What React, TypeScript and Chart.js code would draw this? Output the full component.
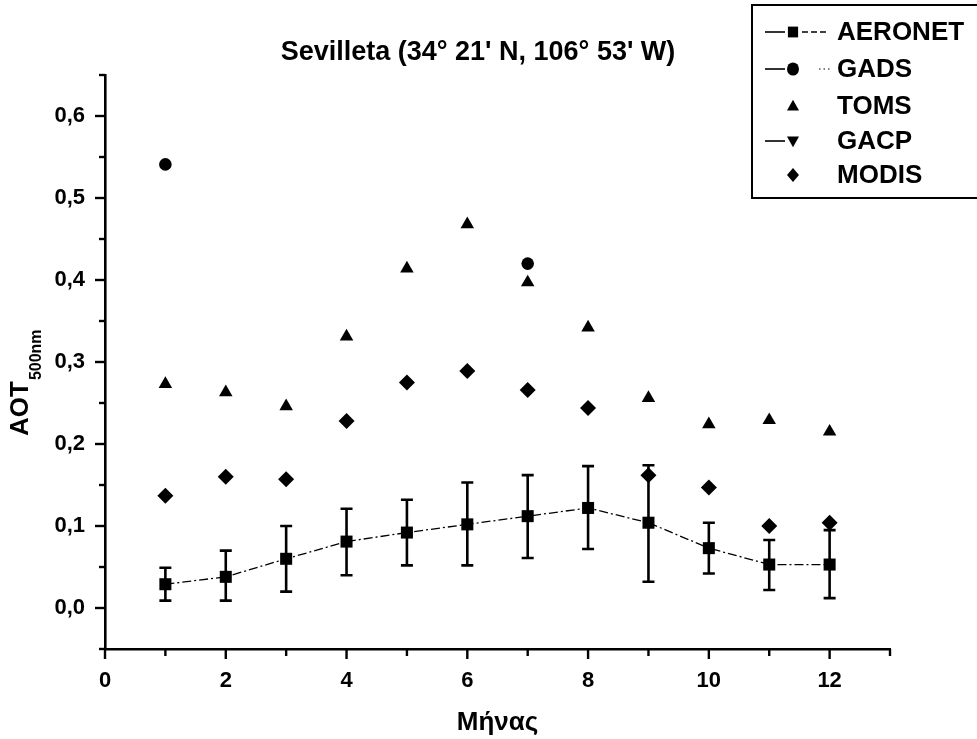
import React, { useEffect, useRef } from 'react';
import { Chart, registerables } from 'chart.js';

Chart.register(...registerables);

// ---------- data ----------
const months = [1, 2, 3, 4, 5, 6, 7, 8, 9, 10, 11, 12];
const aeronet = [0.029, 0.038, 0.060, 0.081, 0.092, 0.102, 0.112, 0.122, 0.104, 0.073, 0.053, 0.053];
const aeronetLow = [0.009, 0.009, 0.020, 0.040, 0.052, 0.052, 0.061, 0.072, 0.032, 0.042, 0.022, 0.012];
const aeronetHigh = [0.049, 0.070, 0.100, 0.121, 0.132, 0.153, 0.162, 0.173, 0.174, 0.104, 0.083, 0.095];
const gadsMonths = [1, 7];
const gadsValues = [0.541, 0.420];
const toms = [0.273, 0.263, 0.246, 0.331, 0.414, 0.468, 0.397, 0.342, 0.256, 0.224, 0.229, 0.215];
const gacpMonths: number[] = [];
const gacpValues: number[] = [];
const modis = [0.137, 0.160, 0.157, 0.228, 0.275, 0.289, 0.266, 0.244, 0.162, 0.147, 0.100, 0.104];

const xTickValues = [0, 2, 4, 6, 8, 10, 12];
const yTickValues = [0, 0.1, 0.2, 0.3, 0.4, 0.5, 0.6];
const seriesNames = ['AERONET', 'GADS', 'TOMS', 'GACP', 'MODIS'];
const titleText = "Sevilleta (34\u00B0 21' N, 106\u00B0 53' W)";
const xTitle = 'Μήνας';
const yTitleMain = 'AOT';
const yTitleSub = '500nm';

const FONT = "'Liberation Sans', Arial, Helvetica, sans-serif";

function drawMarker(ctx: CanvasRenderingContext2D, kind: string, x: number, y: number, s: number) {
  ctx.beginPath();
  if (kind === 'rect') {
    ctx.rect(x - s * 0.85, y - s * 0.9, 1.7 * s, 1.8 * s);
  } else if (kind === 'circle') {
    ctx.ellipse(x, y, s, s * 1.1, 0, 0, Math.PI * 2);
  } else if (kind === 'tri') {
    ctx.moveTo(x, y - s * 1.05);
    ctx.lineTo(x + s, y + s * 0.75);
    ctx.lineTo(x - s, y + s * 0.75);
    ctx.closePath();
  } else if (kind === 'triDown') {
    ctx.moveTo(x, y + s * 1.05);
    ctx.lineTo(x + s, y - s * 0.75);
    ctx.lineTo(x - s, y - s * 0.75);
    ctx.closePath();
  } else if (kind === 'diamond') {
    ctx.moveTo(x, y - s * 1.15);
    ctx.lineTo(x + s, y);
    ctx.lineTo(x, y + s * 1.15);
    ctx.lineTo(x - s, y);
    ctx.closePath();
  }
  ctx.fill();
}

const decorPlugin = {
  id: 'decor',
  beforeDatasetsDraw(chart: any) {
    const ctx: CanvasRenderingContext2D = chart.ctx;
    const xs = chart.scales.x;
    const ys = chart.scales.y;
    ctx.save();
    ctx.strokeStyle = '#000';
    ctx.lineWidth = 2.6;
    months.forEach((m, i) => {
      const px = xs.getPixelForValue(m);
      const top = ys.getPixelForValue(aeronetHigh[i]);
      const bot = ys.getPixelForValue(aeronetLow[i]);
      ctx.beginPath();
      ctx.moveTo(px, top);
      ctx.lineTo(px, bot);
      ctx.moveTo(px - 6, top);
      ctx.lineTo(px + 6, top);
      ctx.moveTo(px - 6, bot);
      ctx.lineTo(px + 6, bot);
      ctx.stroke();
    });
    ctx.restore();
  },
  afterDraw(chart: any) {
    const ctx: CanvasRenderingContext2D = chart.ctx;
    const xs = chart.scales.x;
    const ys = chart.scales.y;
    const area = chart.chartArea;
    ctx.save();
    ctx.strokeStyle = '#000';
    ctx.fillStyle = '#000';
    ctx.lineWidth = 2.4;
    // y tick marks (major + minor)
    for (let i = -1; i <= 13; i++) {
      const v = i * 0.05;
      const py = ys.getPixelForValue(v);
      const len = i % 2 === 0 ? 10 : 6;
      ctx.beginPath();
      ctx.moveTo(area.left, py);
      ctx.lineTo(area.left - len, py);
      ctx.stroke();
    }
    // x tick marks
    for (let i = 0; i <= 13; i++) {
      const px = xs.getPixelForValue(i);
      const len = i % 2 === 0 ? 10 : 7;
      ctx.beginPath();
      ctx.moveTo(px, area.bottom);
      ctx.lineTo(px, area.bottom + len);
      ctx.stroke();
    }
    // chart title
    ctx.font = `bold 27px ${FONT}`;
    ctx.textAlign = 'center';
    ctx.textBaseline = 'middle';
    ctx.fillText(titleText, 478, 53);

    // y axis title with subscript
    ctx.save();
    ctx.translate(28, 436);
    ctx.rotate(-Math.PI / 2);
    ctx.textAlign = 'left';
    ctx.textBaseline = 'alphabetic';
    ctx.font = `bold 26px ${FONT}`;
    ctx.fillText(yTitleMain, 0, 0);
    const w = ctx.measureText(yTitleMain).width;
    ctx.font = `bold 16px ${FONT}`;
    ctx.fillText(yTitleSub, w + 1, 13);
    ctx.restore();

    // legend
    const bx = 752, by = 5, bh = 193;
    ctx.fillStyle = '#fff';
    ctx.fillRect(bx, by, 977 - bx + 5, bh);
    ctx.strokeStyle = '#000';
    ctx.lineWidth = 2;
    ctx.strokeRect(bx, by, 977 - bx + 10, bh);
    ctx.fillStyle = '#000';
    const rows = [32, 69, 106, 141, 175];
    const kinds = ['rect', 'circle', 'tri', 'triDown', 'diamond'];
    const mx = 793;
    rows.forEach((ry, i) => {
      ctx.lineWidth = 1.6;
      ctx.setLineDash([]);
      if (i === 0 || i === 1 || i === 3) {
        ctx.beginPath();
        ctx.moveTo(765, ry);
        ctx.lineTo(785, ry);
        ctx.stroke();
      }
      if (i === 0) {
        ctx.setLineDash([6, 3]);
        ctx.beginPath();
        ctx.moveTo(802, ry);
        ctx.lineTo(828, ry);
        ctx.stroke();
      }
      if (i === 1) {
        ctx.setLineDash([1.5, 3]);
        ctx.lineWidth = 1;
        ctx.beginPath();
        ctx.moveTo(819, ry);
        ctx.lineTo(831, ry);
        ctx.stroke();
      }
      ctx.setLineDash([]);
      drawMarker(ctx, kinds[i], mx, ry, 6);
      ctx.font = `bold 26px ${FONT}`;
      ctx.textAlign = 'left';
      ctx.textBaseline = 'middle';
      ctx.fillText(seriesNames[i], 837, ry + 1);
    });
    ctx.restore();
  },
};

export default function App() {
  const ref = useRef<HTMLCanvasElement | null>(null);
  useEffect(() => {
    if (!ref.current) return;
    const chart = new Chart(ref.current, {
      type: 'scatter',
      data: {
        datasets: [
          {
            label: seriesNames[0],
            data: months.map((m, i) => ({ x: m, y: aeronet[i] })),
            showLine: true,
            borderColor: '#000',
            borderWidth: 1.3,
            borderDash: [9, 3, 2, 3],
            backgroundColor: '#000',
            pointStyle: 'rect',
            pointRadius: 8.5,
            pointBorderWidth: 0,
          },
          {
            label: seriesNames[1],
            data: gadsMonths.map((m, i) => ({ x: m, y: gadsValues[i] })),
            backgroundColor: '#000',
            borderColor: '#000',
            pointStyle: 'circle',
            pointRadius: 6.3,
            pointBorderWidth: 0,
          },
          {
            label: seriesNames[2],
            data: months.map((m, i) => ({ x: m, y: toms[i] })),
            backgroundColor: '#000',
            borderColor: '#000',
            pointStyle: 'triangle',
            pointRadius: 7.8,
            pointBorderWidth: 0,
          },
          {
            label: seriesNames[3],
            data: gacpMonths.map((m, i) => ({ x: m, y: gacpValues[i] })),
            backgroundColor: '#000',
            borderColor: '#000',
            pointStyle: 'triangle',
            rotation: 180,
            pointRadius: 7.8,
            pointBorderWidth: 0,
          },
          {
            label: seriesNames[4],
            data: months.map((m, i) => ({ x: m, y: modis[i] })),
            backgroundColor: '#000',
            borderColor: '#000',
            pointStyle: 'rectRot',
            pointRadius: 8,
            pointBorderWidth: 0,
          },
        ],
      },
      options: {
        responsive: false,
        animation: false,
        layout: { padding: { left: 0, right: 87, top: 75, bottom: 0 } },
        plugins: {
          legend: { display: false },
          tooltip: { enabled: false },
          title: { display: false },
        },
        scales: {
          x: {
            type: 'linear',
            min: 0,
            max: 13,
            border: { display: true, color: '#000', width: 2.6 },
            grid: { display: false, drawTicks: false, tickLength: 0 },
            ticks: {
              stepSize: 1,
              autoSkip: false,
              maxRotation: 0,
              padding: 19,
              color: '#000',
              font: { family: FONT, size: 22, weight: 'bold' },
              callback: (v: any) => {
                const n = Number(v);
                return xTickValues.includes(Math.round(n)) && Math.abs(n - Math.round(n)) < 1e-6 ? String(Math.round(n)) : null;
              },
            },
            title: {
              display: true,
              text: xTitle,
              color: '#000',
              font: { family: FONT, size: 26, weight: 'bold' },
              padding: { top: 0, bottom: 1 },
            },
            afterFit: (s: any) => {
              s.height = 90;
            },
          },
          y: {
            type: 'linear',
            min: -0.05,
            max: 0.65,
            border: { display: true, color: '#000', width: 2.6 },
            grid: { display: false, drawTicks: false, tickLength: 0 },
            ticks: {
              stepSize: 0.05,
              autoSkip: false,
              padding: 20,
              color: '#000',
              font: { family: FONT, size: 22, weight: 'bold' },
              callback: (v: any) => {
                const n = Number(v);
                const hit = yTickValues.find((t) => Math.abs(t - n) < 1e-6);
                return hit !== undefined ? hit.toFixed(1).replace('.', ',') : null;
              },
            },
            afterFit: (s: any) => {
              s.width = 105;
            },
          },
        },
      },
      plugins: [decorPlugin],
    } as any);
    return () => chart.destroy();
  }, []);
  return (
    <div style={{ position: 'absolute', left: 0, top: 0, width: 977, height: 739, background: '#fff' }}>
      <canvas ref={ref} width={977} height={739} style={{ width: 977, height: 739 }} />
    </div>
  );
}
